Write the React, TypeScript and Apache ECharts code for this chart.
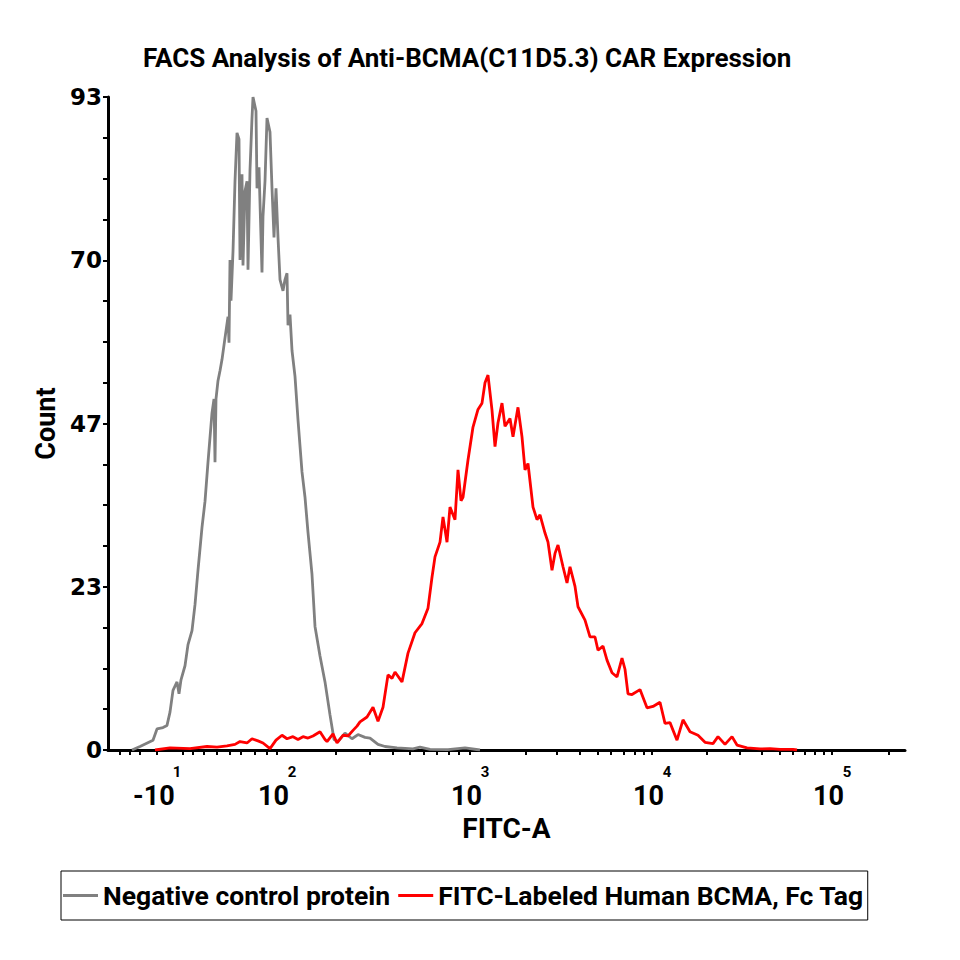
import React, { useEffect, useRef } from "react";
import * as echarts from "echarts";

// Display channel units on the x axis (logicle-style FITC-A display)
const xMajorTicks = [49, 169, 362, 544, 724];
const xMajorBase = ["-10", "10", "10", "10", "10"];
const xMajorExp = ["1", "2", "3", "4", "5"];
const xAllTicks = [12, 22, 32, 49, 75, 85, 96, 109, 122, 133, 147, 159, 169, 228, 262, 285, 302, 316, 329, 341, 351, 362, 418, 449, 472, 490, 503, 516, 527, 536, 544, 599, 632, 654, 672, 685, 697, 707, 716, 724, 781];

const yMax = 93;
const yInterval = 23.25;

const seriesNames = ["Negative control protein", "FITC-Labeled Human BCMA, Fc Tag"];
const seriesColors = ["#808080", "#ff0000"];

const negativeControl: [number, number][] = [
  [24, 0], [32, 0.5], [45, 1.4], [49, 3], [55, 3.2], [59, 3.5], [62, 5.4], [65, 8.5], [69, 9.7], [71, 8],
  [73, 10], [77, 12], [80, 15], [84, 17], [87, 20.7], [90, 25.6], [94, 31.7], [97, 35.4], [100, 41], [104, 48],
  [106, 50], [107, 41], [108, 50], [110, 52.6], [112, 54], [114, 55.6], [117, 58.7], [120, 61.7], [121, 58], [122, 69.8],
  [123, 64], [125, 71], [127, 81], [129, 87.9], [131, 87], [132, 69.8], [134, 82], [135, 69], [137, 79.6], [139, 81],
  [140, 68.4], [142, 82.6], [144, 90], [145, 93], [148, 91], [149, 80], [151, 83], [154, 68], [155, 76], [157, 81],
  [159, 90], [162, 88], [164, 80], [166, 73], [168, 80], [170, 73], [172, 67], [175, 65.4], [177, 67], [179, 67.9],
  [180, 60.5], [182, 62], [184, 56.9], [187, 53.2], [190, 47], [194, 39.6], [197, 36], [200, 31], [204, 25], [207, 17.6],
  [212, 13.4], [217, 9.7], [222, 5], [226, 1.5], [230, 1.2], [237, 2.4], [244, 1.6], [250, 2.2], [257, 1.8], [262, 1.7],
  [270, 0.8], [277, 0.5], [289, 0.3], [305, 0.15], [312, 0.4], [322, 0.1], [340, 0.05], [357, 0.3], [372, 0]
];

const bcmaStained: [number, number][] = [
  [47, 0], [62, 0.3], [82, 0.2], [99, 0.5], [109, 0.4], [119, 0.6], [127, 0.8], [132, 1.2], [139, 1.0], [144, 1.6],
  [150, 1.3], [155, 1.0], [162, 0.2], [168, 1.4], [174, 2.1], [179, 1.6], [185, 1.9], [190, 1.5], [195, 1.9], [200, 1.7],
  [205, 2.0], [212, 2.6], [217, 1.5], [219, 1.2], [225, 2.3], [229, 1.0], [235, 2.1], [240, 2.0], [245, 2.8], [249, 3.4],
  [252, 4.0], [259, 4.7], [265, 6.1], [270, 4.1], [275, 6.1], [280, 10.7], [284, 10.2], [287, 11.1], [294, 9.7], [300, 13.8],
  [307, 16.7], [314, 18], [320, 20.2], [324, 24.6], [327, 27.5], [332, 29.6], [335, 33.2], [339, 29.6], [342, 34.6], [347, 32.8],
  [350, 39.9], [353, 35.5], [355, 36], [360, 41.3], [365, 46], [370, 48.5], [374, 49.4], [377, 52.3], [380, 53.4], [384, 48.4],
  [387, 43.2], [390, 46.6], [394, 49.4], [397, 46.1], [402, 47.2], [405, 44.6], [410, 48.8], [414, 44.6], [417, 39.9], [420, 40.8],
  [425, 34.6], [429, 32.8], [432, 33.5], [437, 30.9], [440, 29.6], [444, 25.6], [447, 28], [450, 29.2], [455, 26.1], [459, 23.8],
  [462, 26.1], [467, 23.3], [470, 20.4], [477, 18.5], [482, 16.1], [487, 16.1], [490, 14.2], [495, 14.8], [499, 12.8], [504, 11],
  [509, 10.4], [514, 13.1], [517, 11.5], [520, 8], [524, 7.9], [532, 8.6], [539, 6], [545, 6.2], [552, 6.8], [557, 3.8],
  [562, 3.9], [569, 1.4], [575, 4.3], [582, 2.6], [590, 2.1], [597, 1.1], [605, 0.9], [610, 1.9], [617, 0.8], [624, 1.9],
  [629, 0.7], [639, 0.3], [652, 0.15], [662, 0.2], [672, 0.1], [685, 0.1], [689, 0]
];

const SANS = "Roboto, 'Liberation Sans', sans-serif";

export default function App() {
  const ref = useRef<HTMLDivElement>(null);
  useEffect(() => {
    if (!ref.current) return;
    const chart = echarts.init(ref.current, undefined, { renderer: "svg" });
    chart.setOption({
      animation: false,
      backgroundColor: "#ffffff",
      title: {
        text: "FACS Analysis of Anti-BCMA(C11D5.3) CAR Expression",
        left: 138,
        top: 40,
        textStyle: { fontFamily: SANS, fontWeight: "bold", fontSize: 26, color: "#000" },
      },
      legend: {
        left: 61,
        top: 871,
        orient: "horizontal",
        icon: "rect",
        itemWidth: 35,
        itemHeight: 3,
        itemGap: 8,
        padding: [11, 4, 11, 2],
        borderColor: "#000",
        borderWidth: 1,
        textStyle: { fontFamily: SANS, fontWeight: "bold", fontSize: 26.5, color: "#000" },
        data: seriesNames,
      },
      grid: { left: 108, right: 55, top: 97, bottom: 210, containLabel: false },
      xAxis: {
        type: "value",
        min: 0,
        max: 797,
        name: "FITC-A",
        nameLocation: "middle",
        nameGap: 58,
        nameTextStyle: { fontFamily: SANS, fontWeight: "bold", fontSize: 28, color: "#000" },
        axisLine: { show: true, lineStyle: { color: "#000", width: 3 } },
        axisTick: { show: true, length: 5, lineStyle: { color: "#000", width: 2 }, customValues: xAllTicks },
        splitLine: { show: false },
        axisLabel: {
          customValues: xMajorTicks,
          margin: 13,
          formatter: (v: number) => {
            const i = xMajorTicks.indexOf(v);
            if (i < 0) return "";
            const neg = xMajorBase[i].startsWith("-");
            return neg
              ? `{pn|}{sup|${xMajorExp[i]}}\n{bn|${xMajorBase[i]}}{ps|}`
              : `{pb|}{sup|${xMajorExp[i]}}\n{b|${xMajorBase[i]}}{ps|}`;
          },
          rich: {
            sup: { fontFamily: SANS, fontWeight: "bold", fontSize: 15, width: 8, align: "left", lineHeight: 18, color: "#000" },
            pb: { width: 30, lineHeight: 18 },
            pn: { width: 40, lineHeight: 18 },
            ps: { width: 8, lineHeight: 30 },
            b: { fontFamily: SANS, fontWeight: "bold", fontSize: 27, width: 30, align: "left", lineHeight: 30, color: "#000" },
            bn: { fontFamily: SANS, fontWeight: "bold", fontSize: 27, width: 40, align: "left", lineHeight: 30, color: "#000" },
          },
        },
      },
      yAxis: {
        type: "value",
        min: 0,
        max: yMax,
        interval: yInterval,
        name: "Count",
        nameLocation: "middle",
        nameGap: 49,
        nameRotate: 90,
        nameTextStyle: { fontFamily: SANS, fontWeight: "bold", fontSize: 27, color: "#000" },
        axisLine: { show: true, lineStyle: { color: "#000", width: 3 } },
        axisTick: { show: true, length: 5, lineStyle: { color: "#000", width: 2 } },
        minorTick: { show: true, splitNumber: 4, length: 5, lineStyle: { color: "#000", width: 2 } },
        splitLine: { show: false },
        minorSplitLine: { show: false },
        axisLabel: {
          margin: 6,
          formatter: (v: number) => String(Math.round(v)),
          fontFamily: "'DejaVu Sans', sans-serif",
          fontWeight: "bold",
          fontSize: 23,
          color: "#000",
        },
      },
      series: [
        {
          name: seriesNames[0],
          type: "line",
          data: negativeControl,
          showSymbol: false,
          symbol: "none",
          color: seriesColors[0],
          lineStyle: { color: seriesColors[0], width: 2.8 },
          z: 2,
        },
        {
          name: seriesNames[1],
          type: "line",
          data: bcmaStained,
          showSymbol: false,
          symbol: "none",
          color: seriesColors[1],
          lineStyle: { color: seriesColors[1], width: 2.8 },
          z: 3,
        },
      ],
    });
    return () => chart.dispose();
  }, []);
  return (
    <div
      ref={ref}
      style={{ position: "absolute", left: 0, top: 0, width: 960, height: 960, background: "#fff" }}
    />
  );
}
